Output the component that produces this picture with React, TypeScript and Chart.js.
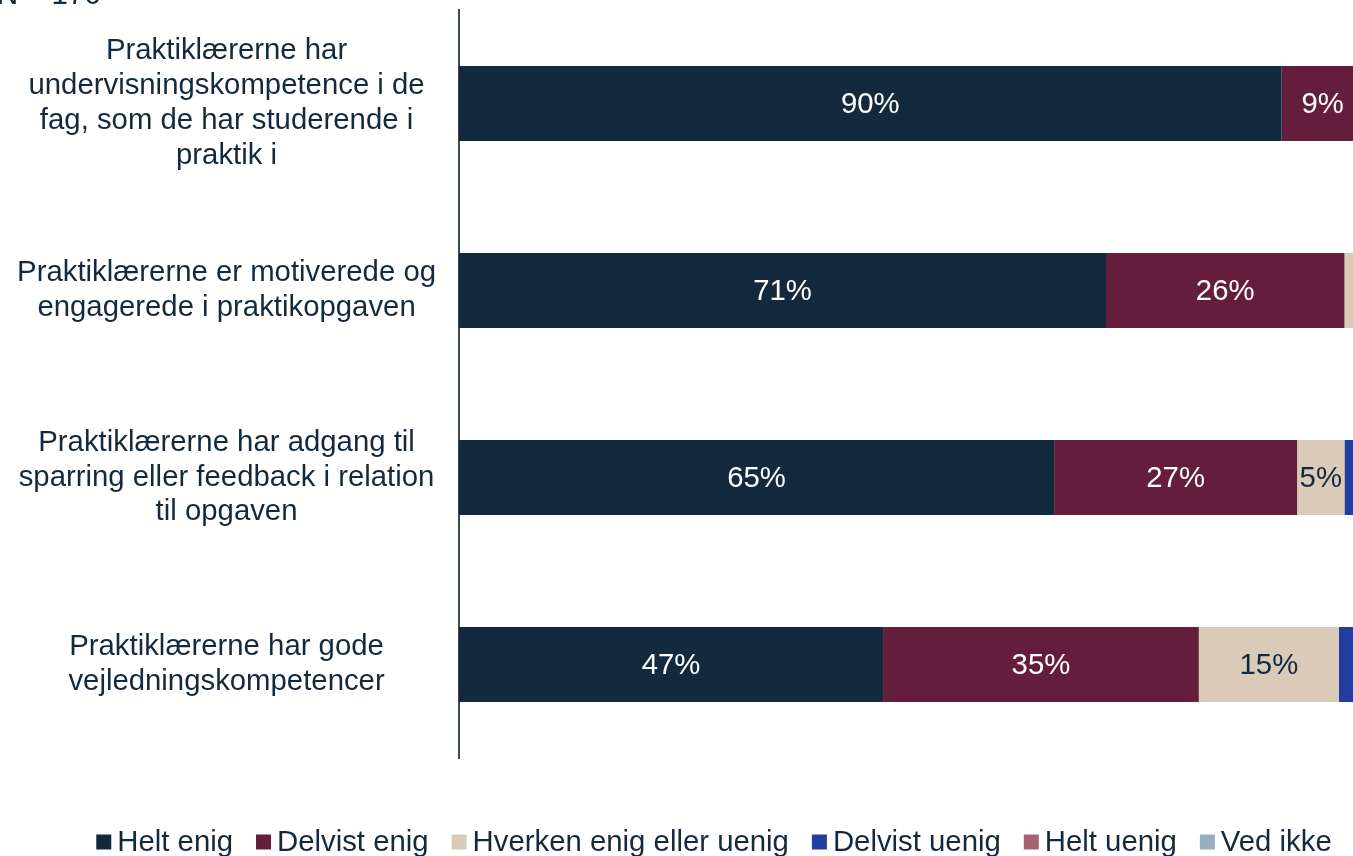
import React, { useEffect, useRef } from "react";
import { Chart, registerables } from "chart.js";

Chart.register(...registerables);

const categories: string[][] = [
  ["Praktiklærerne har", "undervisningskompetence i de", "fag, som de har studerende i", "praktik i"],
  ["Praktiklærerne er motiverede og", "engagerede i praktikopgaven"],
  ["Praktiklærerne har adgang til", "sparring eller feedback i relation", "til opgaven"],
  ["Praktiklærerne har gode", "vejledningskompetencer"],
];

const seriesNames = [
  "Helt enig",
  "Delvist enig",
  "Hverken enig eller uenig",
  "Delvist uenig",
  "Helt uenig",
  "Ved ikke",
];

const heltEnig = [90.4, 71.1, 65.4, 46.6];
const delvistEnig = [9.0, 26.2, 26.7, 34.7];
const hverken = [0.6, 2.7, 5.2, 15.4];
const delvistUenig = [0, 0, 2.7, 3.3];
const heltUenig = [0, 0, 0, 0];
const vedIkke = [0, 0, 0, 0];

const seriesValues = [heltEnig, delvistEnig, hverken, delvistUenig, heltUenig, vedIkke];

const colors = ["#132a3e", "#641e3b", "#d9cbb7", "#233d9f", "#a6636f", "#96afbb"];
const labelColors = ["#ffffff", "#ffffff", "#132a3e", "#ffffff", "#ffffff", "#132a3e"];

const sampleNote = "N = 176";

const FONT = "'Liberation Sans', Arial, sans-serif";
const TEXT = "#132a3e";

const overlayPlugin = {
  id: "overlay",
  afterDatasetsDraw(chart: any) {
    const ctx = chart.ctx as CanvasRenderingContext2D;
    chart.data.datasets.forEach((ds: any, di: number) => {
      const meta = chart.getDatasetMeta(di);
      meta.data.forEach((el: any, i: number) => {
        const v = ds.data[i] as number;
        if (v < 4.5) return;
        const { x, y, base } = el.getProps(["x", "y", "base"], true);
        ctx.save();
        ctx.fillStyle = labelColors[di];
        ctx.font = `29.33px ${FONT}`;
        ctx.textAlign = "center";
        ctx.textBaseline = "middle";
        ctx.fillText(Math.round(v) + "%", (x + base) / 2, y + 1);
        ctx.restore();
      });
    });
  },
  afterDraw(chart: any) {
    const ctx = chart.ctx as CanvasRenderingContext2D;
    ctx.save();
    // sample note (mostly cropped at the top)
    ctx.fillStyle = TEXT;
    ctx.font = `29.33px ${FONT}`;
    ctx.textAlign = "left";
    ctx.textBaseline = "alphabetic";
    ctx.fillText(sampleNote, -3, 4);

    // legend
    const box = 15;
    const gapBoxText = 6;
    const gapItems = 23;
    const widths = seriesNames.map((n) => box + gapBoxText + ctx.measureText(n).width);
    const total = widths.reduce((a, b) => a + b, 0) + gapItems * (widths.length - 1);
    let x = chart.width / 2 - total / 2 + 2;
    const cy = chart.height - 14;
    ctx.textBaseline = "middle";
    seriesNames.forEach((n, i) => {
      ctx.fillStyle = colors[i];
      ctx.fillRect(x, cy - box / 2, box, box);
      ctx.fillStyle = TEXT;
      ctx.fillText(n, x + box + gapBoxText, cy + 1);
      x += widths[i] + gapItems;
    });
    ctx.restore();
  },
};

export default function App() {
  const ref = useRef<HTMLCanvasElement | null>(null);

  useEffect(() => {
    document.body.style.margin = "0";
    const canvas = ref.current;
    if (!canvas) return;
    const chart = new Chart(canvas, {
      type: "bar",
      data: {
        labels: categories as any,
        datasets: seriesNames.map((name, i) => ({
          label: name,
          data: seriesValues[i],
          backgroundColor: colors[i],
          borderWidth: 0,
          barPercentage: 1,
          categoryPercentage: 0.4,
        })),
      },
      options: {
        indexAxis: "y",
        responsive: false,
        animation: false,
        devicePixelRatio: 1,
        layout: { padding: { top: 10, right: 55, bottom: 98, left: 0 } },
        plugins: {
          legend: { display: false },
          tooltip: { enabled: false },
          title: { display: false },
        },
        scales: {
          x: { stacked: true, display: false, min: 0, max: 100 },
          y: {
            stacked: true,
            grid: { display: false, drawTicks: false },
            border: { display: true, color: "#3b4856", width: 2 },
            ticks: {
              crossAlign: "center",
              padding: 23,
              color: TEXT,
              font: { family: FONT, size: 29.33, lineHeight: 1.19 },
            },
            afterFit: (s: any) => {
              s.width = 459;
              s.paddingTop = 0;
              s.paddingBottom = 0;
            },
          },
        },
      } as any,
      plugins: [overlayPlugin],
    });
    return () => chart.destroy();
  }, []);

  return (
    <div
      style={{
        position: "fixed",
        left: 0,
        top: 0,
        width: 1353,
        height: 856,
        overflow: "hidden",
        background: "#ffffff",
      }}
    >
      <canvas ref={ref} width={1424} height={856} style={{ display: "block" }} />
    </div>
  );
}
